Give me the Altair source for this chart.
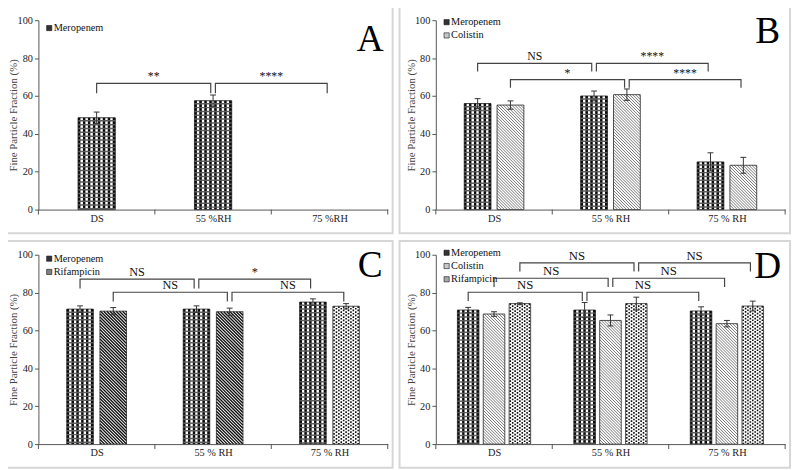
import json
import altair as alt
import pandas as pd

FONT = "Liberation Serif"

# ---------------- data ----------------
cats_A = ["DS", "55 %RH", "75 %RH"]
cats = ["DS", "55 % RH", "75 % RH"]

A_names = ["Meropenem"]
A_mero = [48.5, 57.5, None]
A_mero_err = [3.0, 3.0, None]

B_names = ["Meropenem", "Colistin"]
B_mero = [56.0, 60.0, 25.2]
B_mero_err = [2.6, 2.6, 4.8]
B_coli = [55.2, 60.7, 23.4]
B_coli_err = [2.2, 3.0, 4.2]

C_names = ["Meropenem", "Rifampicin"]
C_mero = [71.3, 71.3, 75.0]
C_mero_err = [1.7, 1.7, 1.7]
C_rifa = [70.2, 69.9, 72.8]
C_rifa_err = [1.9, 1.9, 1.4]

D_names = ["Meropenem", "Colistin", "Rifampicin"]
D_mero = [70.8, 70.8, 70.3]
D_mero_err = [1.4, 4.0, 2.2]
D_coli = [68.7, 65.3, 63.6]
D_coli_err = [1.2, 2.9, 1.7]
D_rifa = [74.2, 74.2, 72.9]
D_rifa_err = [0.4, 3.4, 2.6]

# significance brackets: (from group, from series, to group, to series, level, label)
A_sig = [(0, 0, 1, 0, 66.7, "**"), (1, 0, 2, 0, 66.7, "****")]
B_sig = [(0, 0, 1, 0, 77.2, "NS"), (1, 0, 2, 0, 77.2, "****"),
         (0, 1, 1, 1, 68.6, "*"), (1, 1, 2, 1, 68.6, "****")]
C_sig = [(0, 0, 1, 0, 87.1, "NS"), (1, 0, 2, 0, 87.1, "*"),
         (0, 1, 1, 1, 80.2, "NS"), (1, 1, 2, 1, 80.2, "NS")]
D_sig = [(0, 0, 1, 0, 80.2, "NS"), (1, 0, 2, 0, 80.2, "NS"),
         (0, 1, 1, 1, 87.6, "NS"), (1, 1, 2, 1, 87.6, "NS"),
         (0, 2, 1, 2, 95.7, "NS"), (1, 2, 2, 2, 95.7, "NS")]

# ---------------- styles / layout ----------------
A_styles = [["mero"] * 3]
B_styles = [["mero"] * 3, ["coli"] * 3]
C_styles = [["mero"] * 3, ["rifd", "rifd", "dots"]]
D_styles = [["mero"] * 3, ["coli"] * 3, ["dots"] * 3]

BASE = {"mero": "#5e5e5e", "coli": "#ffffff", "rifd": "#ffffff", "dots": "#ffffff"}
SWATCH = {"mero": "#333333", "coli": "#c8c8c8", "rifd": "#808080", "dots": "#a8a8a8"}
DIAG = {"coli": (3.0, "#555555", 0.8), "rifd": (3.2, "#111111", 1.4)}

W, H = 356, 193
L, R, T, BOT = 37, 5, 14, 24
CAP = 3.0

XS = alt.Scale(domain=[0, 3], nice=False, zero=False)
YS = alt.Scale(domain=[0, 100], nice=False, zero=False)


def build_panel(names, vals, errs_in, styles, sig, cat_labels, bw, step,
                letter, letter_y, legend_styles, legend_top, drop, sig_size):
    arr = json.dumps(cat_labels)
    xaxis = alt.Axis(values=[0.5, 1.5, 2.5], labelExpr=f"{arr}[floor(datum.value)]",
                     ticks=False, labelPadding=4, labelFlush=False,
                     labelOverlap=False, grid=False, title=None, labelFont=FONT,
                     labelFontSize=10.5, labelColor="#222222", domainColor="#555555",
                     zindex=1)
    yaxis = alt.Axis(values=[0, 20, 40, 60, 80, 100], title="Fine Particle Fraction (%)",
                     titleFont=FONT, titleFontSize=11, titleFontWeight="normal",
                     titleColor="#444444", titleX=-20, titleY=H / 2, titleAngle=270,
                     titleAlign="center", titleBaseline="bottom", labelFont=FONT,
                     labelFontSize=10.5, labelColor="#222222", tickSize=4,
                     labelPadding=2, grid=False, domainColor="#555555",
                     tickColor="#555555", zindex=1)

    def X(f):
        return alt.X(f, type="quantitative", scale=XS, axis=xaxis)

    def Y(f):
        return alt.Y(f, type="quantitative", scale=YS, axis=yaxis)

    n = len(names)
    xs = W / 3.0
    ys = H / 100.0
    bars, mero, diag, dots0, dots1, errs = [], [], [], [], [], []
    centers = {}
    for s in range(n):
        for g in range(3):
            c = g + 0.5 + (s - (n - 1) / 2.0) * step
            centers[(g, s)] = c
            v = vals[s][g]
            if v is None:
                continue
            style = styles[s][g]
            xl, xr = c - bw / 2, c + bw / 2
            bars.append(dict(xl=xl, xr=xr, v=v, y0=0.0, f=BASE[style]))
            e = errs_in[s][g]
            if e:
                errs.append(dict(x=c, lo=v - e, hi=v + e, cl=c - CAP / xs, cr=c + CAP / xs))
            pw = bw * xs
            if style == "mero":
                k = max(1, int(round(pw / 2.5)))
                p = pw / k
                for j in range(k):
                    mero.append(dict(x=xl + (j + 0.5) * p / xs, v=v, y0=0.0,
                                     c="#0a0a0a" if j % 2 == 0 else "#ffffff", w=p))
            elif style in DIAG:
                pitch, col, wid = DIAG[style]
                X0, X1, Yv = xl * xs, xr * xs, v * ys
                cc = X0 + pitch / 2
                while cc < X1 + Yv:
                    Xa = max(X0, cc - Yv)
                    Xb = min(X1, cc)
                    if Xb > Xa:
                        diag.append(dict(x=Xa / xs, x2=Xb / xs, y=(cc - Xa) / ys,
                                         y2=(cc - Xb) / ys, c=col, w=wid))
                    cc += pitch
            elif style == "dots":
                k = max(1, int(round(pw / 2.5)))
                p = pw / k
                for j in range(k):
                    (dots0 if j % 2 == 0 else dots1).append(
                        dict(x=xl + (j + 0.5) * p / xs, v=v, y0=0.0))

    layers = []
    frame = alt.Chart(pd.DataFrame({"a": [0]})).mark_rect(
        fillOpacity=0, stroke="#d6d6d6", strokeWidth=2).encode(
        x=alt.value(-L), x2=alt.value(W + R), y=alt.value(-T), y2=alt.value(H + BOT))
    layers.append(frame)

    bdf = pd.DataFrame(bars)
    layers.append(alt.Chart(bdf).mark_rect(strokeWidth=0).encode(
        x=X("xl"), x2="xr:Q", y=Y("v"), y2="y0:Q",
        fill=alt.Fill("f:N", scale=None)))

    # category boundary ticks on the x axis
    layers.append(alt.Chart(pd.DataFrame({"t": [0, 1, 2, 3]})).mark_rule(
        color="#555555", strokeWidth=1).encode(
        x=X("t"), y=alt.value(H), y2=alt.value(H + 5)))

    if mero:
        layers.append(alt.Chart(pd.DataFrame(mero)).mark_rule(strokeDash=[2.4, 1.5]).encode(
            x=X("x"), y=Y("v"), y2="y0:Q", color=alt.Color("c:N", scale=None),
            strokeWidth=alt.StrokeWidth("w:Q", scale=None)))
    if diag:
        layers.append(alt.Chart(pd.DataFrame(diag)).mark_rule().encode(
            x=X("x"), x2="x2:Q", y=Y("y"), y2="y2:Q",
            color=alt.Color("c:N", scale=None),
            strokeWidth=alt.StrokeWidth("w:Q", scale=None)))
    if dots0:
        layers.append(alt.Chart(pd.DataFrame(dots0)).mark_rule(
            strokeDash=[1.7, 1.7], strokeWidth=1.6, color="#111111").encode(
            x=X("x"), y=Y("v"), y2="y0:Q"))
    if dots1:
        layers.append(alt.Chart(pd.DataFrame(dots1)).mark_rule(
            strokeDash=[1.7, 1.7], strokeDashOffset=1.7, strokeWidth=1.6,
            color="#111111").encode(x=X("x"), y=Y("v"), y2="y0:Q"))

    layers.append(alt.Chart(bdf).mark_rect(fillOpacity=0, stroke="#222222", strokeWidth=0.8).encode(
        x=X("xl"), x2="xr:Q", y=Y("v"), y2="y0:Q"))

    if errs:
        edf = pd.DataFrame(errs)
        layers.append(alt.Chart(edf).mark_rule(color="#333333", strokeWidth=1).encode(
            x=X("x"), y=Y("lo"), y2="hi:Q"))
        layers.append(alt.Chart(edf).mark_rule(color="#333333", strokeWidth=1).encode(
            x=X("cl"), x2="cr:Q", y=Y("hi")))
        layers.append(alt.Chart(edf).mark_rule(color="#333333", strokeWidth=1).encode(
            x=X("cl"), x2="cr:Q", y=Y("lo")))

    pts, labs = [], []
    for k, (g1, s1, g2, s2, lvl, lab) in enumerate(sig):
        x1 = centers[(g1, s1)] + (0.02 if g1 == 1 else 0.0)
        x2 = centers[(g2, s2)] - 0.02
        for o, (xx, yy) in enumerate([(x1, lvl - drop), (x1, lvl), (x2, lvl), (x2, lvl - drop)]):
            pts.append(dict(id=k, o=o, x=xx, y=yy))
        labs.append(dict(x=(x1 + x2) / 2, y=lvl, t=lab))
    layers.append(alt.Chart(pd.DataFrame(pts)).mark_line(color="#444444", strokeWidth=1.2).encode(
        x=X("x"), y=Y("y"), detail="id:N", order="o:Q"))
    layers.append(alt.Chart(pd.DataFrame(labs)).mark_text(
        font=FONT, fontSize=sig_size, baseline="alphabetic", dy=-3, color="#111111").encode(
        x=X("x"), y=Y("y"), text="t:N"))

    for i, (nm, st) in enumerate(zip(names, legend_styles)):
        yy = legend_top + i * 13.5
        one = pd.DataFrame({"t": [nm]})
        layers.append(alt.Chart(one).mark_square(
            size=28, fill=SWATCH[st], stroke="#111111", strokeWidth=0.6, opacity=1).encode(
            x=alt.value(11), y=alt.value(yy)))
        layers.append(alt.Chart(one).mark_text(
            font=FONT, fontSize=10.5, align="left", baseline="middle", color="#111111").encode(
            x=alt.value(15.5), y=alt.value(yy), text="t:N"))

    layers.append(alt.Chart(pd.DataFrame({"t": [letter]})).mark_text(
        font=FONT, fontSize=38, align="center", baseline="middle", color="#000000").encode(
        x=alt.value(0.95 * W), y=alt.value(letter_y), text="t:N"))

    return alt.layer(*layers).properties(width=W, height=H)


pA = build_panel(A_names, [A_mero], [A_mero_err], A_styles, A_sig, cats_A,
                 0.32, 0.0, "A", 20, ["mero"], 8, 5.2, 12)
pB = build_panel(B_names, [B_mero, B_coli], [B_mero_err, B_coli_err], B_styles, B_sig, cats,
                 0.23, 0.282, "B", 12, ["mero", "coli"], 2, 4.3, 12)
pC = build_panel(C_names, [C_mero, C_rifa], [C_mero_err, C_rifa_err], C_styles, C_sig, cats,
                 0.228, 0.285, "C", 12, ["mero", "rifd"], 4, 4.9, 12.5)
pD = build_panel(D_names, [D_mero, D_coli, D_rifa], [D_mero_err, D_coli_err, D_rifa_err],
                 D_styles, D_sig, cats, 0.185, 0.222, "D", 13, ["mero", "coli", "dots"], -2,
                 4.6, 13)

chart = alt.vconcat(
    alt.hconcat(pA, pB, spacing=3),
    alt.hconcat(pC, pD, spacing=3),
    spacing=4,
).properties(
    padding={"left": -8, "top": -8, "right": 0, "bottom": 0},
    background="white",
).configure_view(stroke="transparent")

chart.save("out.html", embed_options={"renderer": "svg", "actions": False})
